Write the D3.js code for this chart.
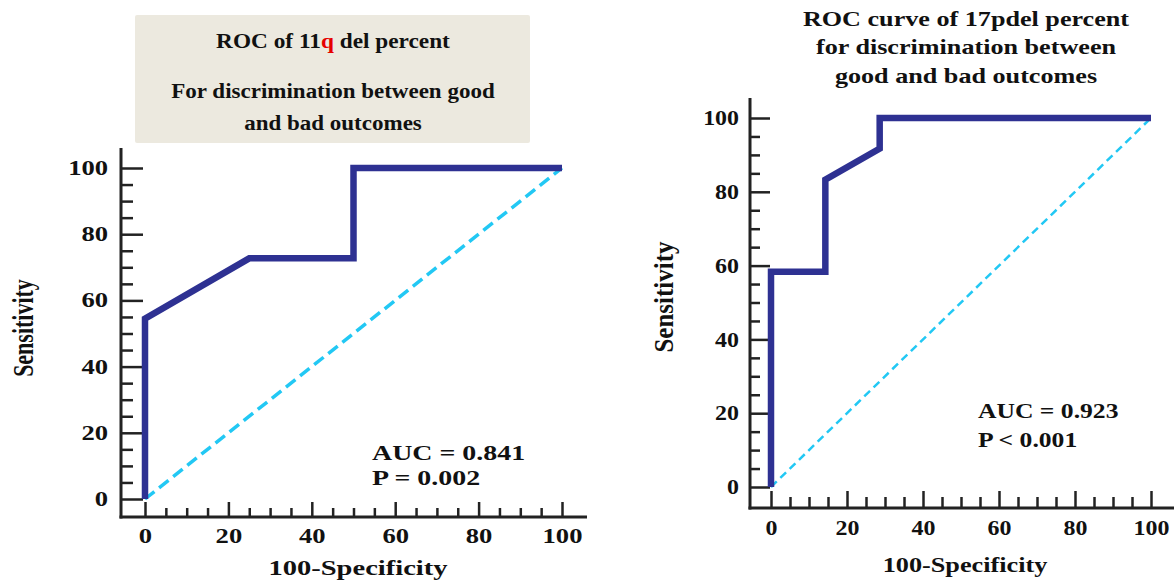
<!DOCTYPE html>
<html>
<head>
<meta charset="utf-8">
<script src="https://cdn.jsdelivr.net/npm/d3@7"></script>
<style>
  body { margin: 0; background: #fff; }
  svg text { font-family: "Liberation Serif", "Times New Roman", serif; font-weight: bold; fill: #111; }
</style>
</head>
<body>
<svg id="chart" width="1174" height="581"></svg>
<script>
// ---- data ----
var majorTicks = [0, 20, 40, 60, 80, 100];
var minorTicks = d3.range(0, 101, 5).filter(function (v) { return v % 20 !== 0; });

var fpr11q = [0, 0, 25, 50, 50, 100];
var tpr11q = [0, 54.5, 72.7, 72.7, 100, 100];
var stats11q = ["AUC = 0.841", "P = 0.002"];

var fpr17p = [0, 0, 14.3, 14.3, 28.6, 28.6, 100];
var tpr17p = [0, 58.3, 58.3, 83.3, 91.7, 100, 100];
var stats17p = ["AUC = 0.923", "P < 0.001"];

var title11q = ["For discrimination between good", "and bad outcomes"];
var title17p = ["ROC curve of 17pdel percent", "for discrimination between", "good and bad outcomes"];

var svg = d3.select("#chart");

// the source image is stretched sideways, so widen the glyphs around their anchor point
function widen(sel, k) {
  sel.each(function () {
    var el = d3.select(this);
    var ax = +el.attr("x") || 0, ay = +el.attr("y") || 0;
    el.attr("transform", "translate(" + ax + "," + ay + ") scale(" + k + ",1) translate(" + (-ax) + "," + (-ay) + ")");
  });
}

function drawRoc(cfg) {
  var x = d3.scaleLinear().domain([0, 100]).range([cfg.x0, cfg.x1]);
  var y = d3.scaleLinear().domain([0, 100]).range([cfg.y0, cfg.y1]);
  var g = svg.append("g");

  // minor ticks
  g.append("g").attr("transform", "translate(" + cfg.axX + ",0)")
    .call(d3.axisLeft(y).tickValues(minorTicks).tickSize(-cfg.minorLen).tickFormat(""))
    .call(function (a) { a.select(".domain").remove(); });
  g.append("g").attr("transform", "translate(0," + cfg.axY + ")")
    .call(d3.axisBottom(x).tickValues(minorTicks).tickSize(-cfg.minorLenX).tickFormat(""))
    .call(function (a) { a.select(".domain").remove(); });

  // major ticks + labels
  var ya = g.append("g").attr("transform", "translate(" + cfg.axX + ",0)")
    .call(d3.axisLeft(y).tickValues(majorTicks).tickSize(-cfg.majorLen).tickPadding(cfg.yPad));
  ya.select(".domain").remove();
  var xa = g.append("g").attr("transform", "translate(0," + cfg.axY + ")")
    .call(d3.axisBottom(x).tickValues(majorTicks).tickSize(-cfg.majorLenX).tickPadding(cfg.xPad));
  xa.select(".domain").remove();
  g.selectAll(".tick line").attr("stroke", "#222").attr("stroke-width", 2.5);
  g.selectAll(".tick text").attr("font-size", cfg.tickFont)
    .style("font-family", "Liberation Serif, serif").style("font-weight", "bold").attr("fill", "#111")
    .call(widen, cfg.tickK);

  // axis lines
  g.append("line").attr("x1", cfg.axX).attr("x2", cfg.axX)
    .attr("y1", cfg.axTop).attr("y2", cfg.axY + 1.5)
    .attr("stroke", "#222").attr("stroke-width", 3);
  g.append("line").attr("x1", cfg.axX - 1.5).attr("x2", cfg.axRight)
    .attr("y1", cfg.axY).attr("y2", cfg.axY)
    .attr("stroke", "#222").attr("stroke-width", 3);

  // chance diagonal
  g.append("line")
    .attr("x1", x(0)).attr("y1", y(0)).attr("x2", x(100)).attr("y2", y(100))
    .attr("stroke", "#22c8f4").attr("stroke-width", cfg.diagW)
    .attr("stroke-dasharray", cfg.dash);

  // ROC curve
  var pts = cfg.fpr.map(function (v, i) { return [v, cfg.tpr[i]]; });
  g.append("path").datum(pts)
    .attr("fill", "none").attr("stroke", "#2e3192").attr("stroke-width", 6.5)
    .attr("stroke-linejoin", "miter")
    .attr("d", d3.line().x(function (d) { return x(d[0]); }).y(function (d) { return y(d[1]); }));

  // stats
  g.selectAll(".stat").data(cfg.stats).join("text")
    .attr("x", cfg.statX).attr("y", function (d, i) { return cfg.statY + i * cfg.statGap; })
    .attr("font-size", 21).text(function (d) { return d; })
    .call(widen, cfg.statK);

  // axis titles
  g.append("text").attr("x", cfg.xtX).attr("y", cfg.xtY).attr("text-anchor", "middle")
    .attr("font-size", 21).text("100-Specificity")
    .call(widen, cfg.xtK);
  g.append("text")
    .attr("transform", "translate(" + cfg.ytX + "," + cfg.ytY + ") scale(" + cfg.ytK + ",1) rotate(-90)")
    .attr("text-anchor", "middle").attr("font-size", cfg.ytFont).text("Sensitivity");
}

drawRoc({
  x0: 145, x1: 562, y0: 499, y1: 168,
  axX: 121, axY: 517, axTop: 148, axRight: 587,
  majorLen: 22, minorLen: 12, majorLenX: 15, minorLenX: 9,
  yPad: 13, xPad: 12, tickFont: 20, tickK: 1.33, diagW: 3.5, dash: "12,6",
  fpr: fpr11q, tpr: tpr11q, stats: stats11q,
  statX: 372, statY: 460, statGap: 25, statK: 1.33,
  xtX: 358, xtY: 575, xtK: 1.36,
  ytX: 33, ytY: 328, ytK: 1.3, ytFont: 22
});

drawRoc({
  x0: 771, x1: 1151, y0: 487, y1: 118,
  axX: 750, axY: 508, axTop: 98, axRight: 1174,
  majorLen: 20, minorLen: 10, majorLenX: 17, minorLenX: 11,
  yPad: 11, xPad: 12, tickFont: 21, tickK: 1.14, diagW: 2.5, dash: "8,5",
  fpr: fpr17p, tpr: tpr17p, stats: stats17p,
  statX: 978, statY: 418, statGap: 29, statK: 1.22,
  xtX: 965, xtY: 572, xtK: 1.25,
  ytX: 673, ytY: 297, ytK: 1.1, ytFont: 25
});

// left title box
svg.append("rect").attr("x", 135).attr("y", 15).attr("width", 395).attr("height", 128)
  .attr("fill", "#ece9df").attr("rx", 2);
var t1 = svg.append("text").attr("x", 333).attr("y", 48).attr("text-anchor", "middle").attr("font-size", 20);
t1.append("tspan").text("ROC of 11");
t1.append("tspan").style("fill", "#e60000").text("q");
t1.append("tspan").text(" del percent");
t1.call(widen, 1.165);
svg.selectAll(".t11").data(title11q).join("text")
  .attr("x", 333).attr("y", function (d, i) { return 98 + i * 32; })
  .attr("text-anchor", "middle").attr("font-size", 20).text(function (d) { return d; })
  .call(widen, 1.15);

// right title
svg.selectAll(".t17").data(title17p).join("text")
  .attr("x", 966).attr("y", function (d, i) { return 26 + i * 28.5; })
  .attr("text-anchor", "middle").attr("font-size", 21).text(function (d) { return d; })
  .call(widen, 1.245);
</script>
</body>
</html>
